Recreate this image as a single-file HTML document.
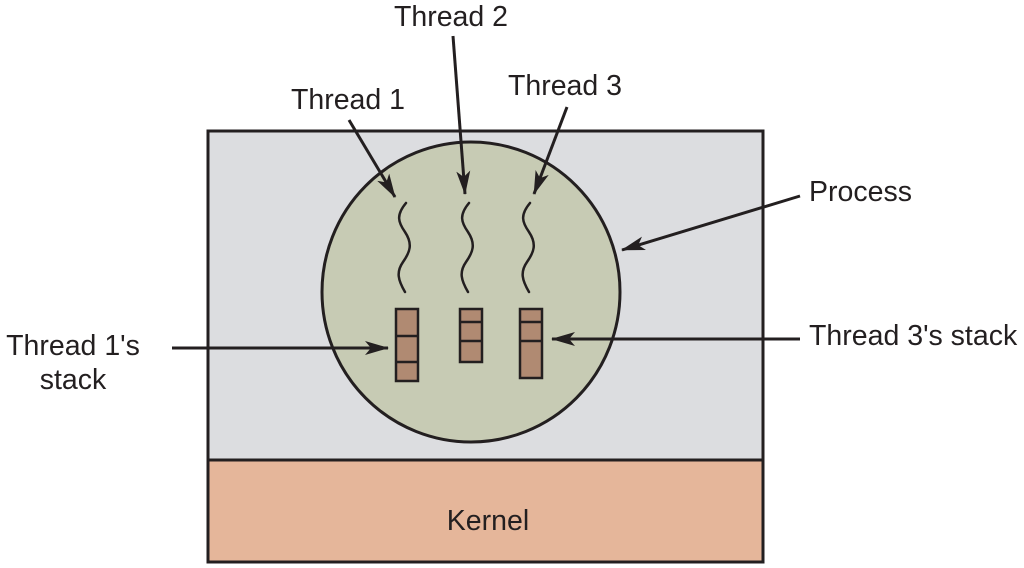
<!DOCTYPE html>
<html><head><meta charset="utf-8"><style>
html,body{margin:0;padding:0;background:#fff;}
svg{display:block}
text{font-family:"Liberation Sans",sans-serif;font-size:28.5px;fill:#231f20}
</style></head><body>
<svg width="1024" height="568" viewBox="0 0 1024 568" xmlns="http://www.w3.org/2000/svg">
<defs>
<marker id="a" viewBox="0 0 24 14" refX="23" refY="7" markerWidth="24" markerHeight="14" markerUnits="userSpaceOnUse" orient="auto">
<path d="M0,0 L24,7 L0,14 L6,7 Z" fill="#231f20"/>
</marker>
</defs>
<rect x="208" y="131" width="555" height="329" fill="#dcdde0" stroke="#231f20" stroke-width="3"/>
<rect x="208" y="460" width="555" height="102" fill="#e5b69a" stroke="#231f20" stroke-width="3"/>
<text x="488" y="530" text-anchor="middle">Kernel</text>
<ellipse cx="471" cy="292" rx="149" ry="150" fill="#c7cbb4" stroke="#231f20" stroke-width="3"/>
<g fill="none" stroke="#231f20" stroke-width="2.5" stroke-linecap="round">
<path d="M406,203 C396,215 398,222 405,232 C413,244 410,252 403,262 C396,272 398,280 405,292"/>
<path d="M469,203 C459,215 461,222 468,232 C476,244 473,252 466,262 C459,272 461,280 468,292"/>
<path d="M530,203 C520,215 522,222 529,232 C537,244 534,252 527,262 C520,272 522,280 529,292"/>
</g>
<g fill="#b08a72" stroke="#231f20" stroke-width="2.5">
<rect x="396" y="309" width="22" height="72"/>
<line x1="396" y1="336" x2="418" y2="336"/><line x1="396" y1="362" x2="418" y2="362"/>
<rect x="460" y="309" width="22" height="53"/>
<line x1="460" y1="322" x2="482" y2="322"/><line x1="460" y1="341" x2="482" y2="341"/>
<rect x="520" y="309" width="22" height="69"/>
<line x1="520" y1="322" x2="542" y2="322"/><line x1="520" y1="341" x2="542" y2="341"/>
</g>
<g stroke="#231f20" stroke-width="3" marker-end="url(#a)">
<line x1="349" y1="120" x2="395" y2="197"/>
<line x1="453" y1="36" x2="465" y2="194"/>
<line x1="567" y1="107" x2="534" y2="194"/>
<line x1="800" y1="196" x2="622" y2="250"/>
<line x1="172" y1="348" x2="388" y2="348"/>
<line x1="800" y1="339" x2="552" y2="339"/>
</g>
<text x="451" y="26" text-anchor="middle">Thread 2</text>
<text x="348" y="109" text-anchor="middle">Thread 1</text>
<text x="565" y="95" text-anchor="middle">Thread 3</text>
<text x="809" y="201">Process</text>
<text x="809" y="345">Thread 3's stack</text>
<text x="73" y="355" text-anchor="middle">Thread 1's</text>
<text x="73" y="389" text-anchor="middle">stack</text>
</svg>
</body></html>
